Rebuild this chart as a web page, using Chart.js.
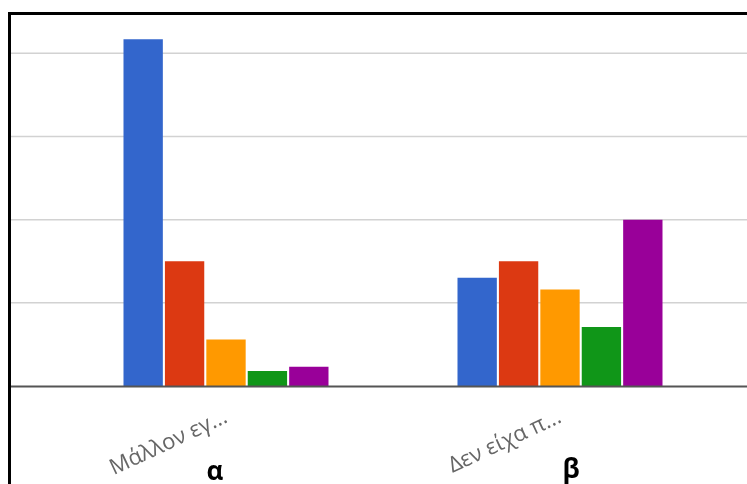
<!DOCTYPE html>
<html>
<head>
<meta charset="utf-8">
<script src="https://cdn.jsdelivr.net/npm/chart.js@4"></script>
<style>
  html, body { margin: 0; padding: 0; background: #fff; }
  #wrap { position: relative; width: 747px; height: 484px; overflow: hidden; }
  #c { position: absolute; left: 0; top: 0; }
  #frame { position: absolute; left: 8px; top: 12px; width: 800px; height: 600px;
           border-left: 3px solid #000; border-top: 3px solid #000; pointer-events: none; }
  .tag { position: absolute; font: bold 26px "Open Sans", sans-serif; line-height: 26px;
         color: #000; transform: translateX(-50%); white-space: nowrap; }
</style>
</head>
<body>
<div id="wrap">
  <canvas id="c" width="747" height="484"></canvas>
  <div id="frame"></div>
  <div class="tag" id="tag0" style="left:215px; top:457px;"></div>
  <div class="tag" id="tag1" style="left:571px; top:455px;"></div>
</div>
<script>
// Answer groups (axis labels as shown, truncated)
const categories = ['Μάλλον εγ...', 'Δεν είχα π...'];
const groupTags = ['α', 'β'];

// One series per answer option
const seriesNames = ['1', '2', '3', '4', '5'];
const blueValues   = [41.7, 13.0];
const redValues    = [15.0, 15.0];
const orangeValues = [5.6, 11.6];
const greenValues  = [1.8, 7.1];
const purpleValues = [2.3, 20.0];

const seriesColors = ['#3366cc', '#dc3912', '#ff9900', '#109618', '#990099'];
const seriesValues = [blueValues, redValues, orangeValues, greenValues, purpleValues];

document.getElementById('tag0').textContent = groupTags[0];
document.getElementById('tag1').textContent = groupTags[1];

// Horizontal gridlines and baseline spanning the whole frame width
const fullGrid = {
  id: 'fullGrid',
  beforeDatasetsDraw(chart) {
    const y = chart.scales.y, ctx = chart.ctx;
    ctx.save();
    ctx.strokeStyle = '#d2d2d2';
    ctx.lineWidth = 1.5;
    y.ticks.forEach(t => {
      if (t.value === 0 || t.value % 10 !== 0) return;
      const py = y.getPixelForValue(t.value);
      ctx.beginPath(); ctx.moveTo(10, py); ctx.lineTo(chart.width, py); ctx.stroke();
    });
    ctx.restore();
  },
  afterDatasetsDraw(chart) {
    const y = chart.scales.y, ctx = chart.ctx;
    const py = y.getPixelForValue(0) + 0.5;
    ctx.save();
    ctx.strokeStyle = '#555';
    ctx.lineWidth = 2;
    ctx.beginPath(); ctx.moveTo(10, py); ctx.lineTo(chart.width, py); ctx.stroke();
    ctx.restore();
  }
};

new Chart(document.getElementById('c'), {
  type: 'bar',
  data: {
    labels: categories,
    datasets: seriesValues.map((vals, i) => ({
      label: seriesNames[i],
      data: vals,
      backgroundColor: seriesColors[i],
      borderWidth: 0,
      categoryPercentage: 0.62,
      barPercentage: 0.95
    }))
  },
  options: {
    responsive: false,
    animation: false,
    layout: { padding: { left: 59, right: 20, top: 20, bottom: 0 } },
    plugins: { legend: { display: false }, tooltip: { enabled: false } },
    scales: {
      x: {
        grid: { display: false },
        border: { display: false },
        ticks: {
          autoSkip: false,
          minRotation: 25,
          maxRotation: 25,
          padding: 10,
          color: '#666',
          font: { family: '"Open Sans", sans-serif', size: 22 }
        },
        afterFit(scale) { scale.height = 98; }
      },
      y: {
        display: false,
        min: 0,
        max: 44,
        ticks: { stepSize: 10 }
      }
    }
  },
  plugins: [fullGrid]
});
</script>
</body>
</html>
